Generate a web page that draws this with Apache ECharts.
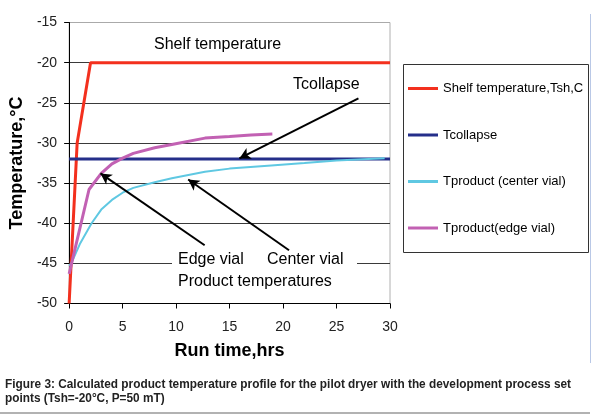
<!DOCTYPE html>
<html><head><meta charset="utf-8">
<script src="https://cdn.jsdelivr.net/npm/echarts@6/dist/echarts.min.js"></script>
<style>html,body{margin:0;padding:0;background:#fff}#c{width:600px;height:416px}</style>
</head><body><div id="c"></div>
<script>
// Data
const xTicks = [0, 5, 10, 15, 20, 25, 30];
const yTicks = [-50, -45, -40, -35, -30, -25, -20, -15];
const shelfTime = [0, 0.75, 2, 30];
const shelfTemp = [-50, -30, -20, -20];
const collapseTime = [0, 30];
const collapseTemp = [-32, -32];
const centerTime = [0, 0.2, 1, 2.1, 3, 4, 5, 6, 8, 9.6, 12.7, 15, 18.9, 22, 25, 27, 29.5];
const centerTemp = [-45.3, -45, -42.6, -40, -38.3, -37.1, -36.2, -35.6, -34.9, -34.4, -33.6, -33.2, -32.8, -32.5, -32.2, -32.05, -31.9];
const edgeTime = [0, 1.86, 3, 4, 5, 6, 8, 9.6, 12.7, 15, 17, 19];
const edgeTemp = [-46.3, -35.8, -33.8, -32.6, -31.9, -31.3, -30.6, -30.2, -29.4, -29.2, -29.0, -28.9];
const seriesNames = ['Shelf temperature,Tsh,C', 'Tcollapse', 'Tproduct (center vial)', 'Tproduct(edge vial)'];
// annotation arrows [fromX, fromY, toX, toY] in data units
const arrowCollapse = [27.05, -24.45, 15.92, -31.93];
const arrowEdge = [12.67, -42.74, 2.93, -33.80];
const arrowCenter = [20.56, -43.37, 11.13, -34.55];
const captionLines = ['Figure 3: Calculated product temperature profile for the pilot dryer with the development process set', 'points (Tsh=-20°C, P=50 mT)'];

const zip = (a, b) => a.map((v, i) => [v, b[i]]);
const arrowLine = (a) => [{coord: [a[0], a[1]]}, {coord: [a[2], a[3]]}];

const FONT = 'Liberation Sans, Arial, sans-serif';
const CAPFONT = 'bold 12.5px Liberation Sans, Arial, sans-serif';
const ctx = document.createElement('canvas').getContext('2d');
ctx.font = CAPFONT;
const capScale = 566 / ctx.measureText(captionLines[0]).width;

const chart = echarts.init(document.getElementById('c'));
chart.setOption({
  animation: false,
  textStyle: {fontFamily: FONT},
  grid: {left: 67, top: 22.5, width: 323, height: 281, show: true, borderColor: '#b0b0b0', borderWidth: 1},
  xAxis: {
    type: 'value', min: 0, max: 30, interval: 5,
    name: 'Run time,hrs', nameLocation: 'middle', nameGap: 39,
    nameTextStyle: {fontSize: 18, fontWeight: 'bold', color: '#000', fontFamily: FONT},
    axisLine: {show: true, lineStyle: {color: '#000', width: 1}},
    axisTick: {show: true, inside: false, length: 5, lineStyle: {color: '#000'}},
    axisLabel: {fontSize: 14, color: '#222', margin: 17, formatter: v => xTicks.includes(v) ? String(v) : ''},
    splitLine: {show: false}
  },
  yAxis: {
    type: 'value', min: -50, max: -15, interval: 5,
    name: 'Temperature,°C', nameLocation: 'middle', nameGap: 41, nameRotate: 90,
    nameTextStyle: {fontSize: 18, fontWeight: 'bold', color: '#000', fontFamily: FONT},
    axisLine: {show: true, onZero: false, lineStyle: {color: '#000', width: 1}},
    axisTick: {show: true, inside: false, length: 5, lineStyle: {color: '#000'}},
    axisLabel: {fontSize: 14, color: '#222', margin: 12, formatter: v => yTicks.includes(v) ? String(v) : ''},
    splitLine: {show: true, lineStyle: {color: ['#3a3a3a', '#3a3a3a', '#3a3a3a', '#3a3a3a', '#3a3a3a', '#3a3a3a', '#3a3a3a', '#aaa'], width: 1}}
  },
  legend: {
    orient: 'vertical', left: 408, top: 81, padding: 0, itemGap: 31.5,
    itemWidth: 30, itemHeight: 3, icon: 'rect',
    textStyle: {fontSize: 13, color: '#000', fontFamily: FONT, lineHeight: 15},
    data: seriesNames
  },
  series: [
    {name: seriesNames[0], type: 'line', data: zip(shelfTime, shelfTemp), symbol: 'none', lineStyle: {color: '#f3301e', width: 3}, itemStyle: {color: '#f3301e'}, z: 3},
    {name: seriesNames[1], type: 'line', data: zip(collapseTime, collapseTemp), symbol: 'none', lineStyle: {color: '#252f8a', width: 3}, itemStyle: {color: '#252f8a'}, z: 3},
    {name: seriesNames[2], type: 'line', data: zip(centerTime, centerTemp), symbol: 'none', lineStyle: {color: '#5fc8e2', width: 2}, itemStyle: {color: '#5fc8e2'}, z: 4},
    {name: seriesNames[3], type: 'line', data: zip(edgeTime, edgeTemp), symbol: 'none', lineStyle: {color: '#c261b3', width: 3}, itemStyle: {color: '#c261b3'}, z: 4,
      markLine: {
        silent: true, symbol: ['none', 'arrow'], symbolSize: [9, 11], label: {show: false},
        lineStyle: {color: '#000', width: 2, type: 'solid'},
        data: [arrowLine(arrowCollapse), arrowLine(arrowEdge), arrowLine(arrowCenter)]
      }
    }
  ],
  graphic: [
    {type: 'rect', z: 50, shape: {x: 403.5, y: 64.5, width: 185, height: 188}, style: {fill: 'none', stroke: '#333', lineWidth: 1}},
    {type: 'line', z: 50, shape: {x1: 590.5, y1: 14, x2: 590.5, y2: 363}, style: {stroke: '#b9c8e6', lineWidth: 1}},
    {type: 'line', z: 50, shape: {x1: 0, y1: 413, x2: 590, y2: 413}, style: {stroke: '#999', lineWidth: 1.5}},
    {type: 'rect', z: 60, shape: {x: 172, y: 251, width: 185, height: 18}, style: {fill: '#fff'}},
    {type: 'text', z: 70, left: 154, top: 37, style: {text: 'Shelf temperature', font: '16px ' + FONT, fill: '#000'}},
    {type: 'text', z: 70, left: 293, top: 77, style: {text: 'Tcollapse', font: '16px ' + FONT, fill: '#000'}},
    {type: 'text', z: 70, left: 178, top: 252, style: {text: 'Edge vial', font: '16px ' + FONT, fill: '#000'}},
    {type: 'text', z: 70, left: 267, top: 252, style: {text: 'Center vial', font: '16px ' + FONT, fill: '#000'}},
    {type: 'text', z: 70, left: 178, top: 274, style: {text: 'Product temperatures', font: '16px ' + FONT, fill: '#000'}},
    {type: 'text', z: 70, x: 5, y: 377, scaleX: capScale, style: {text: captionLines.join('\n'), font: CAPFONT, fill: '#222', lineHeight: 14.5}}
  ]
});
</script></body></html>
